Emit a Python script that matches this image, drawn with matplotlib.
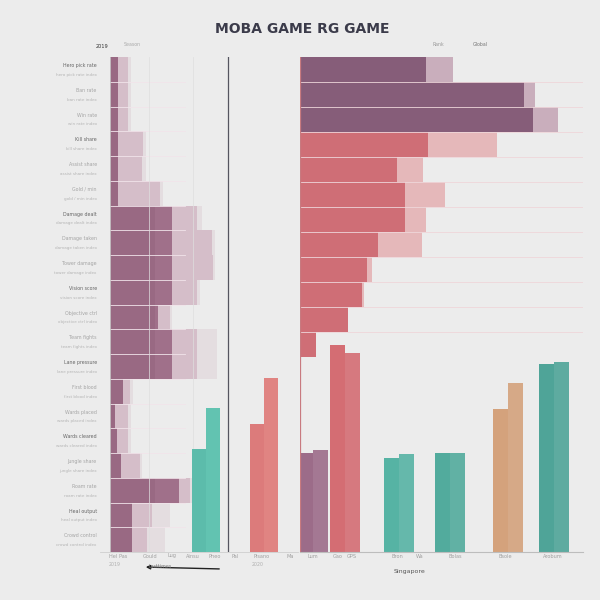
import numpy as np
import matplotlib.pyplot as plt

# ---- data -------------------------------------------------------------
title = "MOBA GAME RG GAME"

# left panel: 20 horizontal rows (solid part, faded part, faintest part)
left_rows = ["Hero pick rate", "Ban rate", "Win rate", "Kill share", "Assist share",
             "Gold / min", "Damage dealt", "Damage taken", "Tower damage", "Vision score",
             "Objective ctrl", "Team fights", "Lane pressure", "First blood", "Wards placed",
             "Wards cleared", "Jungle share", "Roam rate", "Heal output", "Crowd control"]
left_core = [4.3, 4.3, 4.3, 4.3, 4.3, 4.3, 33, 33, 33, 33, 25.5, 33, 33, 6.9, 2.7, 3.7, 5.9, 36.7, 11.7, 11.7]
left_fade = [9.6, 9.6, 9.6, 17.5, 17, 26.6, 46.3, 54.3, 54.8, 46.3, 31.9, 46.3, 46.3, 10.6, 9.6, 9.6, 16, 42.6, 22.3, 19.7]
left_faint = [11, 11, 11, 19, 19, 28, 49, 56, 56, 48, 33, 57, 57, 12, 11, 11, 17, 44, 31.9, 29.3]

# right panel: 12 horizontal rows
right_rows = ["Lead", "Carry", "Mid", "Top", "Support", "Jungle", "Tank", "Mage", "Assassin", "Marksman", "Fighter", "Other"]
right_core = [44.5, 79.2, 82.3, 45.2, 34.3, 37.1, 37.1, 27.6, 23.7, 21.9, 17.0, 5.7]
right_fade = [54.0, 83.0, 91.2, 69.6, 43.5, 51.2, 44.5, 43.1, 25.5, 22.5, 17.0, 5.7]
right_group = ["purple"] * 3 + ["red"] * 9

# small vertical groups inside the left panel
left_v_teal = [20.8, 29.1]
left_v_pink = [25.9, 35.2]

# vertical groups in the lower right
groups = ["Lum", "GPS", "Bron", "Bolas", "Bsole", "Arobum"]
group_a = [20.0, 41.8, 19.0, 20.0, 28.9, 38.0]
group_b = [20.6, 40.2, 19.8, 20.0, 34.1, 38.4]
group_col = ["#9c6c89", "#d46d73", "#56b3a4", "#52ab9d", "#d4a27c", "#4fa498"]
group_center = [0.9, 2.97, 6.6, 10.0, 13.87, 16.93]

bottom_labels = [("Hel Pas", 118), ("Gould", 150), ("Lug", 172), ("Ainsu", 193), ("Pheo", 215),
                 ("Pal", 235), ("Pisano", 262), ("Ma", 290), ("Lum", 313), ("Gao", 338),
                 ("GPS", 352), ("Bron", 397), ("Wa", 420), ("Bolas", 455), ("Bsole", 505),
                 ("Arobum", 553)]

BG = "#ececec"


def rect(x0, y0, x1, y1):
    return [x0 / 600, 1 - y1 / 600, (x1 - x0) / 600, (y1 - y0) / 600]


def clean(ax):
    ax.set_facecolor("none")
    for s in ax.spines.values():
        s.set_visible(False)
    ax.set_xticks([])
    ax.set_yticks([])


fig = plt.figure(figsize=(6, 6), dpi=100, facecolor=BG)

fig.text(0.503, 1 - 29 / 600, title, ha="center", va="center", fontsize=10,
         fontweight="heavy", color="#3b3b4a", family="DejaVu Sans")

# ---- left horizontal bars ----------------------------------------------
axL = fig.add_axes(rect(110, 57, 298, 552))
clean(axL)
y = np.arange(len(left_rows))
axL.barh(y, left_faint, height=1.0, color="#c39aae", alpha=0.18, linewidth=0)
axL.barh(y, left_fade, height=1.0, color="#c39aae", alpha=0.45, linewidth=0)
axL.barh(y, left_core, height=1.0, color="#a0708a", linewidth=0)
axL.barh(y, [min(v, 24) for v in left_core], height=1.0, color="#8c5c76", alpha=0.35, linewidth=0)
for yy in y[:-1]:
    axL.axhline(yy + 0.5, color="#f1e4ea", lw=0.6, xmax=0.4)
axL.set_xlim(0, 100)
axL.set_ylim(len(left_rows) - 0.5, -0.5)
axL.axvline(62.8, color="#555560", lw=0.9)
axL.axvline(21, color="#dedede", lw=0.5)
axL.axvline(44, color="#dedede", lw=0.5)
axL.axvline(0, color="#c8c8c8", lw=0.6)
for i, lab in enumerate(left_rows):
    axL.text(-7, i - 0.15, lab, ha="right", va="center", fontsize=3.4,
             color="#666" if i % 3 == 0 else "#a5a5a5")
    axL.text(-7, i + 0.22, lab.lower() + " index", ha="right", va="center", fontsize=3.0, color="#b5b5b5")

# teal and pink vertical bars in the left panel
axT = fig.add_axes(rect(192, 57, 220, 552))
clean(axT)
axT.bar([0, 1], left_v_teal, width=1.0, color=["#5cbcab", "#62c3b1"], linewidth=0)
axT.set_xlim(-0.5, 1.5)
axT.set_ylim(0, 100)

axP = fig.add_axes(rect(250, 57, 278, 552))
clean(axP)
axP.bar([0, 1], left_v_pink, width=1.0, color=["#dc7b7b", "#e08482"], linewidth=0)
axP.set_xlim(-0.5, 1.5)
axP.set_ylim(0, 100)

# ---- right horizontal bars ---------------------------------------------
axR = fig.add_axes(rect(300, 57, 583, 357))
clean(axR)
yr = np.arange(len(right_rows))
core_c = ["#865d79" if g == "purple" else "#cf6e76" for g in right_group]
fade_c = ["#bb94a8" if g == "purple" else "#e3a2a6" for g in right_group]
axR.barh(yr, right_fade, height=1.0, color=fade_c, alpha=0.7, linewidth=0)
axR.barh(yr, right_core, height=1.0, color=core_c, linewidth=0)
for yy in yr[:-1]:
    axR.axhline(yy + 0.5, color="#efd6da", lw=0.6)
axR.set_xlim(0, 100)
axR.set_ylim(len(right_rows) - 0.5, -0.5)

# ---- right vertical bars -----------------------------------------------
axV = fig.add_axes(rect(300, 57, 583, 552))
clean(axV)
xc = np.array(group_center)
axV.bar(xc - 0.5, group_a, width=1.0, color=group_col, linewidth=0)
axV.bar(xc + 0.5, group_b, width=1.0, color=group_col, alpha=0.9, linewidth=0)
axV.set_xlim(0, 18.87)
axV.set_ylim(0, 100)
axV.axvline(0, color="#c87a80", lw=0.9)
axV.spines["bottom"].set_visible(True)
axV.spines["bottom"].set_color("#bdbdbd")
axV.spines["bottom"].set_linewidth(0.8)

# left baseline
fig.add_artist(plt.Line2D([100 / 600, 298 / 600], [1 - 552 / 600] * 2, color="#cfcfcf", lw=0.6))

# ---- bottom labels -----------------------------------------------------
for lab, px in bottom_labels:
    fig.text(px / 600, 1 - 556 / 600, lab, ha="center", va="center", fontsize=3.6, color="#a0a0a0")
fig.text(410 / 600, 1 - 571 / 600, "Singapore", ha="center", va="center", fontsize=4.5, color="#555")
fig.text(115 / 600, 1 - 564 / 600, "2019", ha="center", va="center", fontsize=3.4, color="#b0b0b0")
fig.text(258 / 600, 1 - 564 / 600, "2020", ha="center", va="center", fontsize=3.4, color="#b0b0b0")
fig.text(160 / 600, 1 - 566 / 600, "Lasttimes", ha="center", va="center", fontsize=3.4, color="#777")
fig.add_artist(plt.Annotation("", xy=(143 / 600, 1 - 567 / 600), xytext=(222 / 600, 1 - 569 / 600),
                              xycoords="figure fraction", textcoords="figure fraction",
                              arrowprops=dict(arrowstyle="-|>", color="#222", lw=1.0, mutation_scale=6)))

# top small labels
fig.text(102 / 600, 1 - 47 / 600, "2019", ha="center", va="center", fontsize=3.6, color="#333")
fig.text(132 / 600, 1 - 45 / 600, "Season", ha="center", va="center", fontsize=3.4, color="#aaa")
fig.text(438 / 600, 1 - 45 / 600, "Rank", ha="center", va="center", fontsize=3.4, color="#999")
fig.text(480 / 600, 1 - 45 / 600, "Global", ha="center", va="center", fontsize=3.4, color="#777")

fig.savefig("out.png", dpi=100, facecolor=BG)
